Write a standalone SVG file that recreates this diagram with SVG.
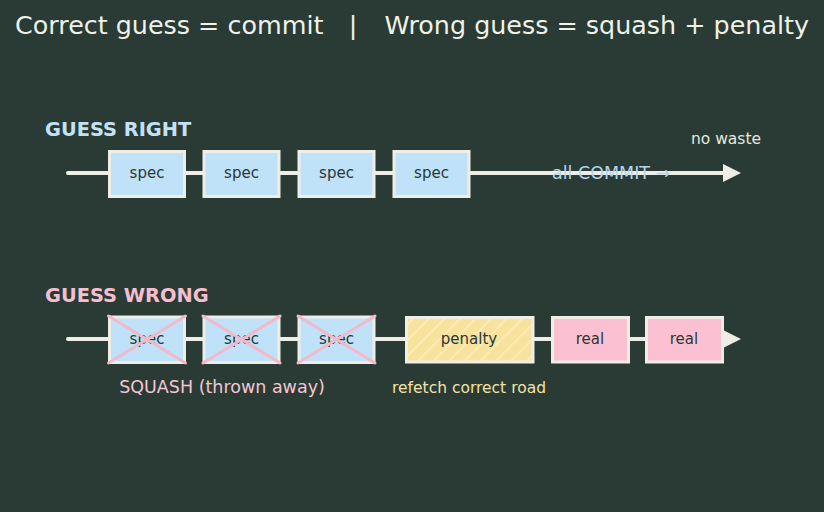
<svg xmlns="http://www.w3.org/2000/svg" width="824" height="512" viewBox="0 0 824 512">
<defs>
<style>
text{font-family:"DejaVu Sans","Liberation Sans",sans-serif}
.title{font-size:25.4px;fill:#eef2e8}
.track{stroke:#eeeee6;stroke-width:4;stroke-linecap:round;fill:none}
.spec{fill:#bfe2f9;stroke:#eeeee6;stroke-width:3}
.real{fill:#fbc1d3;stroke:#eeeee6;stroke-width:3}
.lbl{font-size:15px;fill:#2b3733;text-anchor:middle}
.x{stroke:#f4b8cb;stroke-width:3;stroke-linecap:round}
</style>
<marker id="ah" markerWidth="18" markerHeight="18" refX="0" refY="9" orient="auto" markerUnits="userSpaceOnUse">
<path d="M0,0 L18,9 L0,18 Z" fill="#eeeee6"/>
</marker>
<pattern id="hatch" width="11" height="11" patternUnits="userSpaceOnUse" patternTransform="rotate(45)">
<rect width="11" height="11" fill="#f8e39e"/>
<line x1="0" y1="0" x2="0" y2="11" stroke="#fdefbf" stroke-width="2.5"/>
</pattern>
</defs>
<rect width="824" height="512" fill="#2a3b35"/>
<text class="title" x="15" y="34">Correct guess = commit</text>
<text class="title" x="353" y="34" text-anchor="middle">|</text>
<text class="title" x="809" y="34" text-anchor="end">Wrong guess = squash + penalty</text>

<g id="connectors">
<line class="track" x1="68" y1="173" x2="723" y2="173" marker-end="url(#ah)"/>
<line class="track" x1="68" y1="339" x2="723" y2="339" marker-end="url(#ah)"/>
</g>

<text x="45" y="136" font-size="19.4" font-weight="bold" fill="#c4e2f4">GUESS RIGHT</text>
<g id="r1"><rect class="spec" x="109.5" y="151.5" width="75" height="45"/><text class="lbl" x="147" y="178">spec</text></g>
<g id="r2"><rect class="spec" x="204" y="151.5" width="75" height="45"/><text class="lbl" x="241.5" y="178">spec</text></g>
<g id="r3"><rect class="spec" x="299" y="151.5" width="75" height="45"/><text class="lbl" x="336.5" y="178">spec</text></g>
<g id="r4"><rect class="spec" x="394" y="151.5" width="75" height="45"/><text class="lbl" x="431.5" y="178">spec</text></g>
<text x="552" y="178.5" font-size="17.5" fill="#b4d6ea">all COMMIT →</text>
<text x="726" y="144" font-size="15.5" fill="#e6e8df" text-anchor="middle">no waste</text>

<text x="45" y="302" font-size="19.4" font-weight="bold" fill="#f5bfd0">GUESS WRONG</text>
<g id="w1"><rect class="spec" x="109.5" y="317" width="75" height="45.5"/><text class="lbl" x="147" y="344">spec</text><line class="x" x1="108.5" y1="316" x2="185.5" y2="363"/><line class="x" x1="185.5" y1="316" x2="108.5" y2="363"/></g>
<g id="w2"><rect class="spec" x="204" y="317" width="75" height="45.5"/><text class="lbl" x="241.5" y="344">spec</text><line class="x" x1="203" y1="316" x2="280" y2="363"/><line class="x" x1="280" y1="316" x2="203" y2="363"/></g>
<g id="w3"><rect class="spec" x="299" y="317" width="75" height="45.5"/><text class="lbl" x="336.5" y="344">spec</text><line class="x" x1="298" y1="316" x2="375" y2="363"/><line class="x" x1="375" y1="316" x2="298" y2="363"/></g>
<g id="pen"><rect x="406.5" y="317.5" width="126.5" height="44.5" fill="url(#hatch)" stroke="#eeeee6" stroke-width="3"/><text class="lbl" x="469" y="344">penalty</text></g>
<g id="real1"><rect class="real" x="552.5" y="317.5" width="76" height="44.5"/><text class="lbl" x="590" y="344">real</text></g>
<g id="real2"><rect class="real" x="646.5" y="317.5" width="76" height="44.5"/><text class="lbl" x="684" y="344">real</text></g>
<text x="222" y="393" font-size="17.5" fill="#f2c6d3" text-anchor="middle">SQUASH (thrown away)</text>
<text x="469" y="393" font-size="15.5" fill="#f3e2a6" text-anchor="middle">refetch correct road</text>
</svg>
